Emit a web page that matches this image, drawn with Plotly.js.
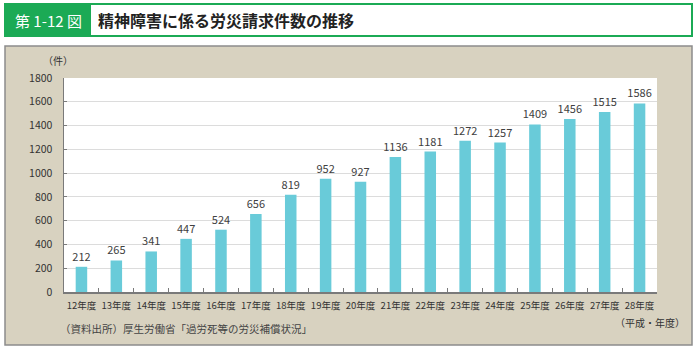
<!DOCTYPE html>
<html>
<head>
<meta charset="utf-8">
<script src="https://cdn.plot.ly/plotly-3.0.1.min.js"></script>
<style>html,body{margin:0;padding:0;background:#fff;}#chart{width:700px;height:353px;}</style>
</head>
<body>
<div id="chart"></div>
<script>
const categories = ["12年度","13年度","14年度","15年度","16年度","17年度","18年度","19年度","20年度","21年度","22年度","23年度","24年度","25年度","26年度","27年度","28年度"];
const claims = [212,265,341,447,524,656,819,952,927,1136,1181,1272,1257,1409,1456,1515,1586];
const yTicks = [0,200,400,600,800,1000,1200,1400,1600,1800];

const figNo = "第 1-12 図";
const titleText = "精神障害に係る労災請求件数の推移";
const unitText = "（件）";
const xUnitText = "（平成・年度）";
const sourceText = "（資料出所）厚生労働省「過労死等の労災補償状況」";

// plot area in pixels: left 64, right 657, top 78, bottom 292
const L = 64, R = 657, T = 78, B = 292;
const px = x => (x - L) / (R - L);
const py = y => (B - y) / (B - T);
const FONT = "'Noto Sans CJK JP', 'Noto Sans', sans-serif";

const trace = {
  type: 'bar',
  x: categories,
  y: claims,
  text: claims.map(String),
  textposition: 'outside',
  constraintext: 'none',
  textfont: {family: FONT, size: 11, color: '#404040'},
  cliponaxis: false,
  marker: {color: '#69CBD9', line: {width: 0}},
  hoverinfo: 'x+y'
};

const layout = {
  width: 700, height: 353,
  margin: {l: L, r: 700 - R, t: T, b: 353 - B, pad: 0},
  paper_bgcolor: '#ffffff',
  plot_bgcolor: '#ffffff',
  showlegend: false,
  bargap: 0.67,
  font: {family: FONT, color: '#333333'},
  uniformtext: {mode: false},
  xaxis: {
    type: 'category',
    showline: true, linecolor: '#7a7a7a', linewidth: 1.5,
    ticks: 'inside', ticklen: 4, tickcolor: '#7a7a7a', tickson: 'boundaries',
    tickangle: 0, ticklabelstandoff: 4,
    tickfont: {family: FONT, size: 9.5, color: '#333333'},
    showgrid: false, zeroline: false, fixedrange: true
  },
  yaxis: {
    range: [0, 1800],
    tickvals: yTicks,
    showline: true, linecolor: '#7a7a7a', linewidth: 1.5,
    ticks: 'inside', ticklen: 3, tickcolor: '#7a7a7a',
    ticklabelstandoff: 8,
    tickfont: {family: FONT, size: 10.5, color: '#333333'},
    showgrid: true, gridcolor: '#dcdcdc', gridwidth: 1.2,
    zeroline: false, fixedrange: true
  },
  shapes: [
    {type: 'rect', xref: 'paper', yref: 'paper', layer: 'below',
     x0: px(5), x1: px(692), y0: py(345), y1: py(46),
     fillcolor: '#D8D2C0', line: {color: '#8c8c8c', width: 1.5}},
    {type: 'rect', xref: 'paper', yref: 'paper', layer: 'below',
     x0: 0, x1: 1, y0: 0, y1: 1,
     fillcolor: '#ffffff', line: {width: 0}},
    {type: 'rect', xref: 'paper', yref: 'paper', layer: 'below',
     x0: px(5), x1: px(692), y0: py(36), y1: py(4),
     fillcolor: '#ffffff', line: {color: '#1BAA55', width: 2}},
    {type: 'rect', xref: 'paper', yref: 'paper', layer: 'below',
     x0: px(5), x1: px(91), y0: py(36), y1: py(4),
     fillcolor: '#1BAA55', line: {width: 0}}
  ],
  annotations: [
    {text: figNo, xref: 'paper', yref: 'paper', x: px(48), y: py(20),
     xanchor: 'center', yanchor: 'middle', showarrow: false,
     font: {family: FONT, size: 15, color: '#ffffff'}},
    {text: '<b>' + titleText + '</b>', xref: 'paper', yref: 'paper', x: px(96), y: py(20),
     xanchor: 'left', yanchor: 'middle', showarrow: false,
     font: {family: FONT, size: 16, color: '#222222'}},
    {text: unitText, xref: 'paper', yref: 'paper', x: px(58), y: py(60),
     xanchor: 'center', yanchor: 'middle', showarrow: false,
     font: {family: FONT, size: 10, color: '#333333'}},
    {text: xUnitText, xref: 'paper', yref: 'paper', x: px(687), y: py(322),
     xanchor: 'right', yanchor: 'middle', showarrow: false,
     font: {family: FONT, size: 10, color: '#333333'}},
    {text: sourceText, xref: 'paper', yref: 'paper', x: px(58), y: py(328),
     xanchor: 'left', yanchor: 'middle', showarrow: false,
     font: {family: FONT, size: 10.5, color: '#444444'}}
  ]
};

Plotly.newPlot('chart', [trace], layout, {displayModeBar: false, staticPlot: true});
</script>
</body>
</html>
